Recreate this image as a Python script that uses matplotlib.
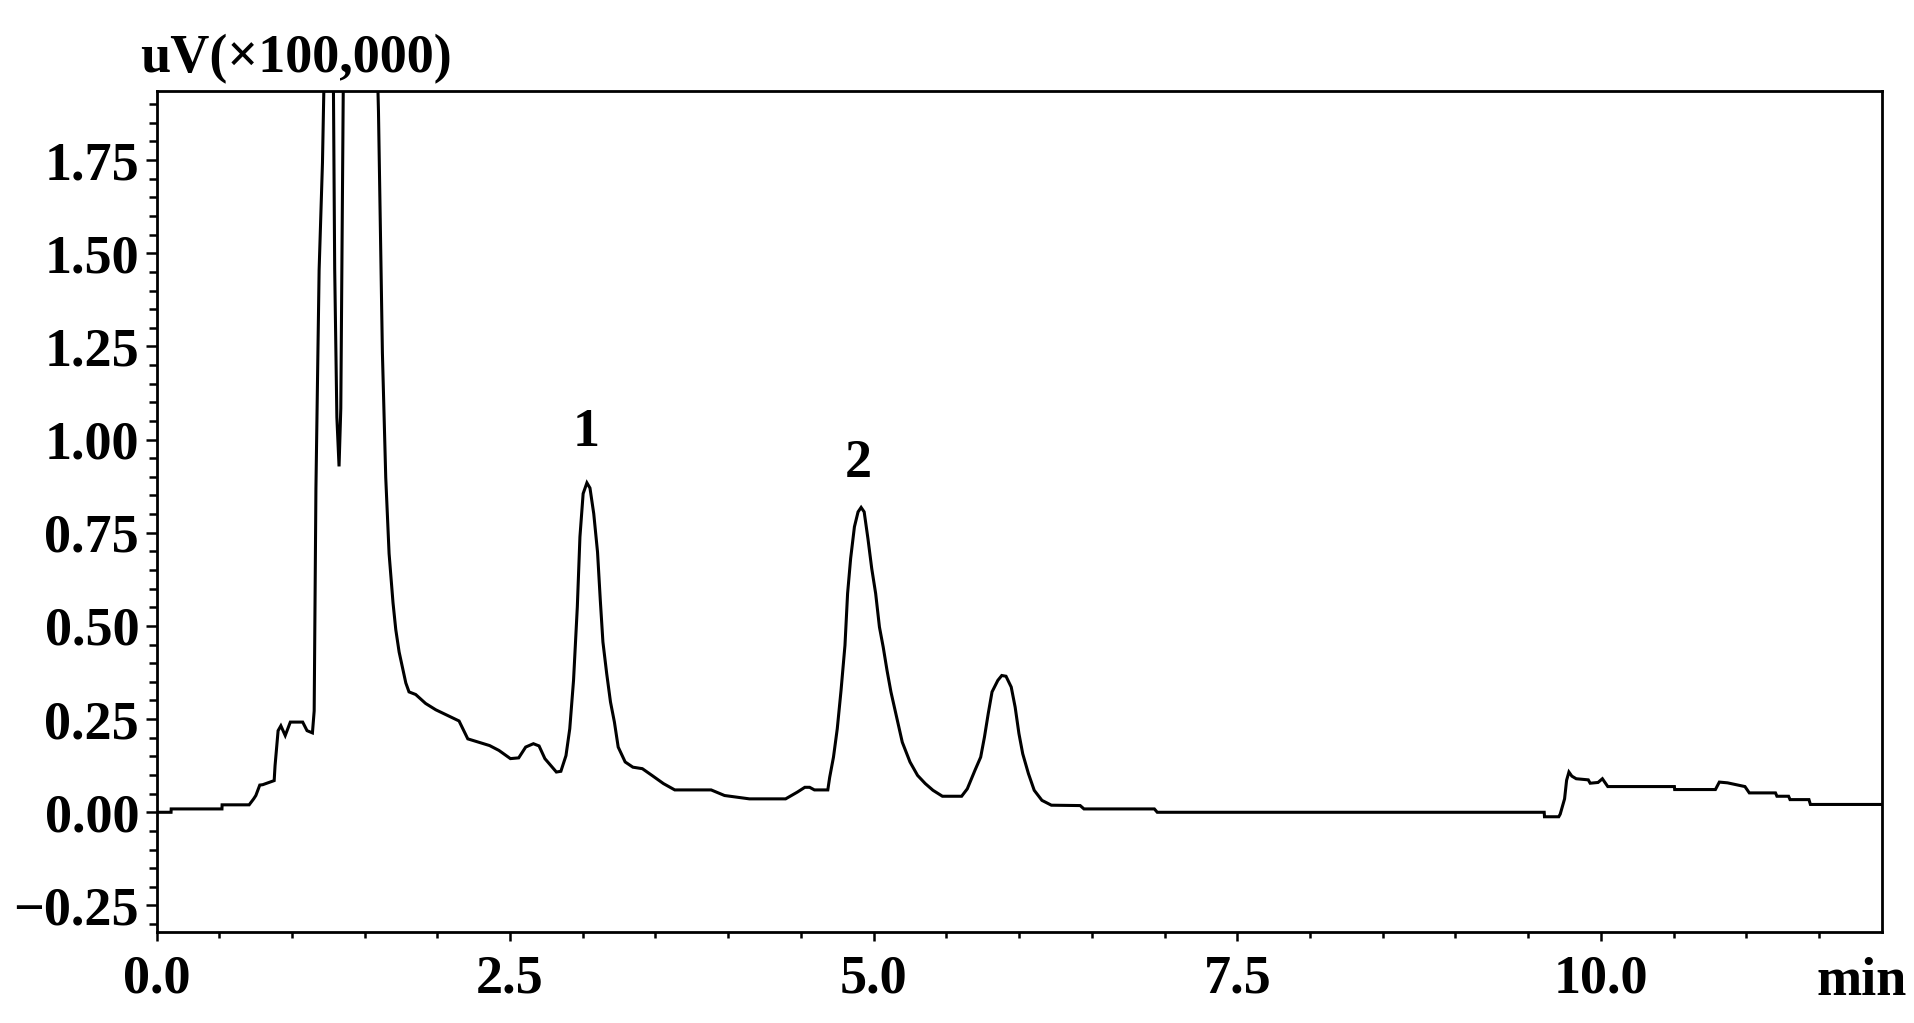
import matplotlib
matplotlib.use("Agg")
import matplotlib.pyplot as plt
from matplotlib.ticker import MultipleLocator, FixedLocator

# retention time (min) / detector signal (uV x 100,000).
# values above ~1.94 are off-scale (clipped by the axes, as in the original)
time_min = [
    0.07, 0.17, 0.171, 0.52, 0.521, 0.707, 0.738, 0.753, 0.78, 0.80, 0.879,
    0.885, 0.906, 0.925, 0.955, 0.99, 1.075, 1.105, 1.142, 1.154, 1.166,
    1.188, 1.211, 1.238, 1.26, 1.28, 1.295, 1.31, 1.325, 1.337, 1.365,
    1.45, 1.55, 1.596, 1.623, 1.646, 1.669, 1.696, 1.715, 1.738, 1.761,
    1.784, 1.806, 1.852, 1.92, 1.99, 2.08, 2.15, 2.21, 2.31, 2.36, 2.424,
    2.503, 2.56, 2.608, 2.661, 2.70, 2.74, 2.819, 2.85, 2.885, 2.911, 2.937,
    2.963, 2.981, 3.003, 3.029, 3.05, 3.076, 3.102, 3.121, 3.139, 3.165,
    3.191, 3.218, 3.244, 3.292, 3.345, 3.41, 3.476, 3.555, 3.633, 3.883,
    3.975, 4.146, 4.395, 4.475, 4.527, 4.56, 4.593, 4.685, 4.698, 4.724,
    4.75, 4.776, 4.803, 4.821, 4.842, 4.868, 4.893, 4.914, 4.935, 4.961,
    4.987, 5.014, 5.04, 5.066, 5.092, 5.119, 5.145, 5.171, 5.197, 5.25,
    5.302, 5.355, 5.408, 5.473, 5.605, 5.644, 5.697, 5.736, 5.762, 5.788,
    5.814, 5.854, 5.881, 5.91, 5.946, 5.973, 5.999, 6.025, 6.064, 6.104,
    6.157, 6.222, 6.42, 6.446, 6.93, 6.95, 9.61, 9.612, 9.71, 9.72, 9.75,
    9.764, 9.78, 9.80, 9.83, 9.913, 9.926, 9.98, 10.01, 10.047, 10.505,
    10.507, 10.787, 10.814, 10.87, 10.99, 11.02, 11.2, 11.21, 11.29, 11.30,
    11.43, 11.44, 11.95,
]
signal = [
    0.0, 0.0, 0.009, 0.009, 0.02, 0.02, 0.036, 0.045, 0.073, 0.074, 0.085,
    0.125, 0.219, 0.232, 0.206, 0.242, 0.242, 0.219, 0.213, 0.272, 0.868,
    1.455, 1.743, 2.30, 2.60, 2.30, 1.459, 1.06, 0.928, 1.084, 2.50,
    4.00, 2.60, 1.881, 1.233, 0.898, 0.694, 0.562, 0.490, 0.430, 0.389,
    0.347, 0.323, 0.316, 0.292, 0.275, 0.258, 0.245, 0.197, 0.185, 0.179, 0.166,
    0.144, 0.146, 0.175, 0.184, 0.178, 0.144, 0.108, 0.110, 0.152, 0.224, 0.354,
    0.551, 0.739, 0.855, 0.884, 0.870, 0.801, 0.698, 0.569, 0.457, 0.372,
    0.296, 0.242, 0.175, 0.135, 0.121, 0.117, 0.099, 0.077, 0.060, 0.060,
    0.045, 0.036, 0.036, 0.054, 0.067, 0.067, 0.060, 0.060, 0.094, 0.148,
    0.224, 0.327, 0.448, 0.587, 0.681, 0.766, 0.806, 0.818, 0.806, 0.734,
    0.654, 0.587, 0.497, 0.443, 0.381, 0.323, 0.278, 0.233, 0.188, 0.135,
    0.099, 0.077, 0.059, 0.043, 0.043, 0.063, 0.113, 0.148, 0.202, 0.265,
    0.323, 0.354, 0.367, 0.365, 0.336, 0.282, 0.211, 0.157, 0.104, 0.059,
    0.032, 0.019, 0.018, 0.009, 0.009, 0.0, 0.0, -0.012, -0.012, -0.005, 0.036,
    0.086, 0.108, 0.097, 0.090, 0.087, 0.078, 0.080, 0.090, 0.069, 0.069,
    0.061, 0.061, 0.081, 0.079, 0.069, 0.052, 0.052, 0.043, 0.043, 0.034,
    0.034, 0.021, 0.021,
]

peak_names = ["1", "2"]
peak_name_x = [3.022, 4.897]
peak_name_y = [0.982, 0.899]

x_tick_labels = ["0.0", "2.5", "5.0", "7.5", "10.0"]
x_majors = [2.5, 5.0, 7.5, 10.0]
y_majors = [-0.25, 0.0, 0.25, 0.5, 0.75, 1.0, 1.25, 1.5, 1.75]

X_LIM = (0.075, 11.93)
Y_LIM = (-0.32, 1.936)

plt.rcParams["font.family"] = ["Liberation Serif", "DejaVu Serif"]
plt.rcParams["font.weight"] = "bold"
FS = 39

fig = plt.figure(figsize=(19.15, 10.23), dpi=100)
ax = fig.add_axes([0.0821, 0.0894, 0.9005, 0.8219])

ax.plot(time_min, signal, color="black", linewidth=2.2, solid_joinstyle="miter")

for name, px, py in zip(peak_names, peak_name_x, peak_name_y):
    ax.text(px, py, name, ha="center", va="baseline", fontsize=FS,
            fontweight="bold")

ax.set_xlim(*X_LIM)
ax.set_ylim(*Y_LIM)

# the instrument labels the left edge of the trace "0.0"
ax.xaxis.set_major_locator(FixedLocator([X_LIM[0]] + x_majors))
ax.xaxis.set_minor_locator(MultipleLocator(0.5))
ax.yaxis.set_major_locator(FixedLocator(y_majors))
ax.yaxis.set_minor_locator(MultipleLocator(0.05))
ax.set_xticklabels(x_tick_labels)
ax.set_yticklabels([f"{v:.2f}".replace("-", "\u2212") for v in y_majors])

for s in ax.spines.values():
    s.set_linewidth(2.0)
ax.tick_params(axis="x", which="major", direction="out", length=6.5, width=1.8,
               pad=10, labelsize=FS)
ax.tick_params(axis="x", which="minor", direction="out", length=4.3, width=1.8)
ax.tick_params(axis="y", which="major", direction="out", length=8, width=1.8,
               pad=5, labelsize=FS)
ax.tick_params(axis="y", which="minor", direction="out", length=5.8, width=1.8)

fig.text(140 / 1915, 1 - 72 / 1023, "uV(\u00d7100,000)", ha="left", va="baseline",
         fontsize=FS, fontweight="bold")
fig.text(1817 / 1915, 1 - 995 / 1023, "min", ha="left", va="baseline",
         fontsize=FS, fontweight="bold")

fig.savefig("out.png", dpi=100, facecolor="white")
